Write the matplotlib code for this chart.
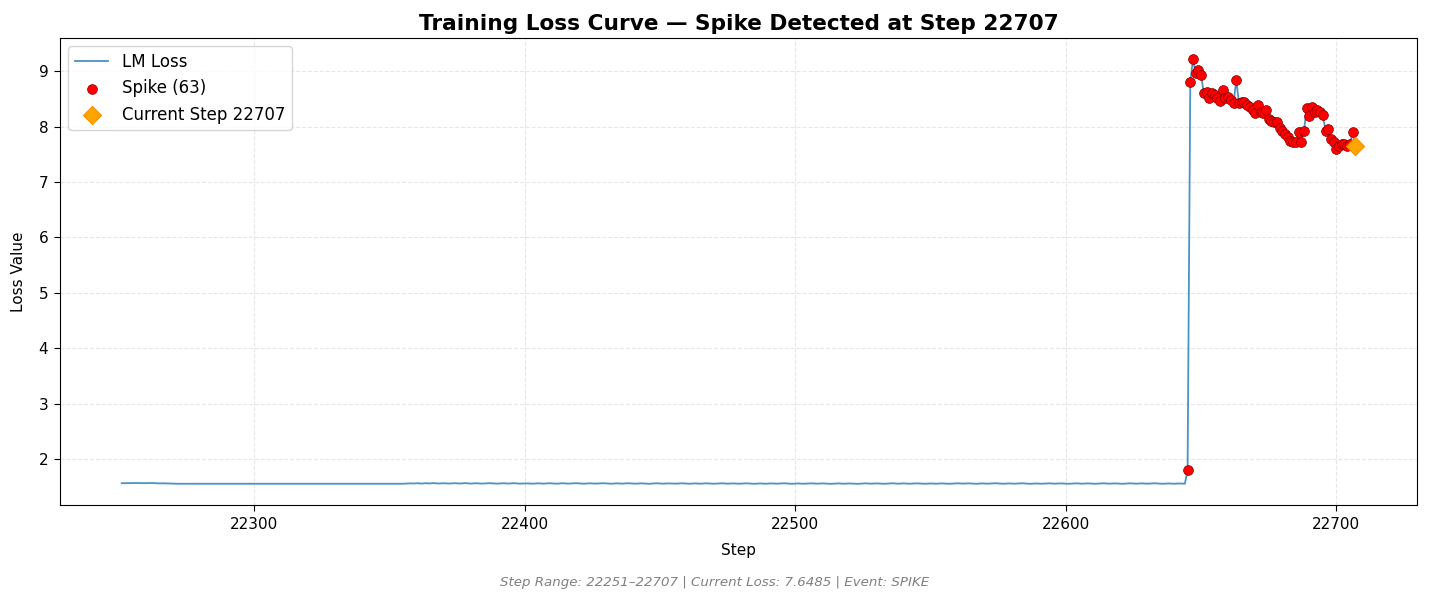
import numpy as np
import matplotlib.pyplot as plt

# Loss values, one per step (22251..22707)
start_step = 22251
current_step = 22707
current_loss = 7.6485

loss_warmup = [1.562, 1.563, 1.565, 1.566, 1.564, 1.566, 1.565, 1.562, 1.561, 1.563,
               1.564, 1.566, 1.563, 1.560, 1.559, 1.561, 1.560, 1.558, 1.556, 1.555]

loss_flat = [1.553, 1.553, 1.552, 1.553, 1.553, 1.554, 1.553, 1.553, 1.552, 1.553,
             1.553, 1.553, 1.554, 1.553, 1.553, 1.552, 1.553, 1.553, 1.553, 1.553,
             1.554, 1.553, 1.553, 1.552, 1.553, 1.553, 1.553, 1.554, 1.553, 1.553,
             1.552, 1.553, 1.553, 1.553, 1.553, 1.554, 1.553, 1.553, 1.552, 1.553,
             1.553, 1.553, 1.554, 1.553, 1.553, 1.552, 1.553, 1.553, 1.553, 1.553,
             1.554, 1.553, 1.553, 1.552, 1.553, 1.553, 1.553, 1.554, 1.553, 1.553,
             1.552, 1.553, 1.553, 1.553, 1.553, 1.554, 1.553, 1.553, 1.552, 1.553,
             1.553, 1.553, 1.554, 1.553, 1.553, 1.552, 1.553, 1.553, 1.553, 1.553,
             1.554, 1.553, 1.553, 1.552, 1.553]

loss_noisy = [
    1.556, 1.558, 1.560, 1.557, 1.562, 1.559, 1.556, 1.563, 1.560, 1.558, 1.565, 1.561, 1.557, 1.559, 1.562, 1.558, 1.556,
    1.560, 1.563, 1.559, 1.557, 1.561, 1.564, 1.560, 1.556, 1.558, 1.562, 1.559, 1.555, 1.558, 1.561, 1.563, 1.559, 1.557,
    1.555, 1.559, 1.562, 1.558, 1.556, 1.560, 1.563, 1.558, 1.555, 1.557, 1.561, 1.559, 1.556, 1.554, 1.558, 1.561, 1.557,
    1.555, 1.558, 1.562, 1.560, 1.557, 1.554, 1.559, 1.562, 1.558, 1.555, 1.557, 1.560, 1.563, 1.559, 1.556, 1.554, 1.558,
    1.561, 1.558, 1.555, 1.557, 1.560, 1.562, 1.558, 1.556, 1.553, 1.557, 1.560, 1.558, 1.555, 1.559, 1.562, 1.559, 1.556,
    1.554, 1.557, 1.560, 1.558, 1.555, 1.552, 1.556, 1.559, 1.561, 1.557, 1.554, 1.556, 1.559, 1.557, 1.553, 1.555, 1.558,
    1.561, 1.558, 1.555, 1.553, 1.556, 1.559, 1.557, 1.554, 1.557, 1.560, 1.558, 1.555, 1.553, 1.556, 1.559, 1.561, 1.557,
    1.554, 1.556, 1.559, 1.556, 1.553, 1.555, 1.558, 1.560, 1.557, 1.554, 1.552, 1.555, 1.558, 1.556, 1.553, 1.556, 1.559,
    1.557, 1.554, 1.556, 1.559, 1.561, 1.557, 1.554, 1.552, 1.555, 1.558, 1.556, 1.553, 1.555, 1.558, 1.560, 1.556, 1.554,
    1.557, 1.559, 1.556, 1.553, 1.551, 1.554, 1.557, 1.559, 1.556, 1.553, 1.555, 1.558, 1.556, 1.553, 1.551, 1.554, 1.557,
    1.560, 1.557, 1.554, 1.556, 1.559, 1.557, 1.554, 1.552, 1.555, 1.558, 1.561, 1.557, 1.554, 1.556, 1.559, 1.556, 1.553,
    1.555, 1.558, 1.560, 1.557, 1.554, 1.552, 1.555, 1.558, 1.556, 1.553, 1.556, 1.559, 1.557, 1.554, 1.552, 1.555, 1.558,
    1.561, 1.558, 1.555, 1.557, 1.560, 1.557, 1.554, 1.552, 1.556, 1.559, 1.557, 1.554, 1.556, 1.559, 1.562, 1.558, 1.555,
    1.553, 1.556, 1.559, 1.557, 1.554, 1.556, 1.559, 1.561, 1.557, 1.554, 1.552, 1.555, 1.558, 1.556, 1.553, 1.555, 1.558,
    1.560, 1.557, 1.554, 1.556, 1.559, 1.557, 1.554, 1.552, 1.555, 1.558, 1.560, 1.557, 1.554, 1.556, 1.559, 1.557, 1.554,
    1.552, 1.555, 1.558, 1.561, 1.557, 1.554, 1.556, 1.559, 1.557, 1.554, 1.552, 1.555, 1.558, 1.560, 1.557, 1.554, 1.556,
    1.559, 1.557, 1.554, 1.556, 1.559, 1.561, 1.557, 1.554, 1.552, 1.555, 1.558, 1.556, 1.553, 1.555, 1.558, 1.556, 1.553,
]

# spike section, steps 22645..22707
loss_spike = [1.80, 8.81, 9.22, 8.97, 9.02, 8.93, 8.60, 8.63, 8.51, 8.60,
              8.57, 8.51, 8.46, 8.66, 8.51, 8.54, 8.49, 8.42, 8.85, 8.42,
              8.45, 8.45, 8.39, 8.36, 8.30, 8.25, 8.39, 8.26, 8.24, 8.30,
              8.14, 8.11, 8.08, 8.08, 7.98, 7.93, 7.87, 7.81, 7.75, 7.72,
              7.72, 7.90, 7.72, 7.92, 8.33, 8.20, 8.35, 8.26, 8.30, 8.26,
              8.22, 7.92, 7.95, 7.77, 7.72, 7.60, 7.66, 7.69, 7.69, 7.66,
              7.69, 7.90, current_loss]

loss = np.array(loss_warmup + loss_flat + loss_noisy + loss_spike)
steps = np.arange(start_step, start_step + len(loss))
spike_mask = steps >= current_step - len(loss_spike) + 1

plt.rcParams['font.size'] = 11
plt.rcParams['xtick.major.size'] = 4.2
plt.rcParams['ytick.major.size'] = 4.2
plt.rcParams['xtick.major.pad'] = 4.2
plt.rcParams['ytick.major.pad'] = 4.2

fig, ax = plt.subplots(figsize=(14.29, 6.02), dpi=100)
fig.subplots_adjust(left=0.042, right=0.9916, top=0.937, bottom=0.161)

ax.plot(steps, loss, color='#1f77b4', lw=1.3, alpha=0.8, label='LM Loss')
ax.scatter(steps[spike_mask], loss[spike_mask], color='red', s=50,
           edgecolors='darkred', linewidths=0.5, zorder=5,
           label=f'Spike ({spike_mask.sum()})')
ax.scatter([current_step], [current_loss], color='orange', marker='D', s=85,
           edgecolors='darkorange', linewidths=0.8, zorder=6,
           label=f'Current Step {current_step}')

ax.set_title(f'Training Loss Curve — Spike Detected at Step {current_step}',
             fontsize=15.6, fontweight='bold')
ax.set_xlabel('Step', labelpad=8)
ax.set_ylabel('Loss Value', labelpad=9)
ax.grid(True, ls='--', alpha=0.3)
ax.legend(loc='upper left', fontsize=12)

fig.text(0.5, 0.033,
         f'Step Range: {steps[0]}–{steps[-1]} | Current Loss: {current_loss:.4f} | Event: SPIKE',
         ha='center', va='center', fontsize=9.6, style='italic', color='gray')

plt.savefig('out.png', dpi=100)
